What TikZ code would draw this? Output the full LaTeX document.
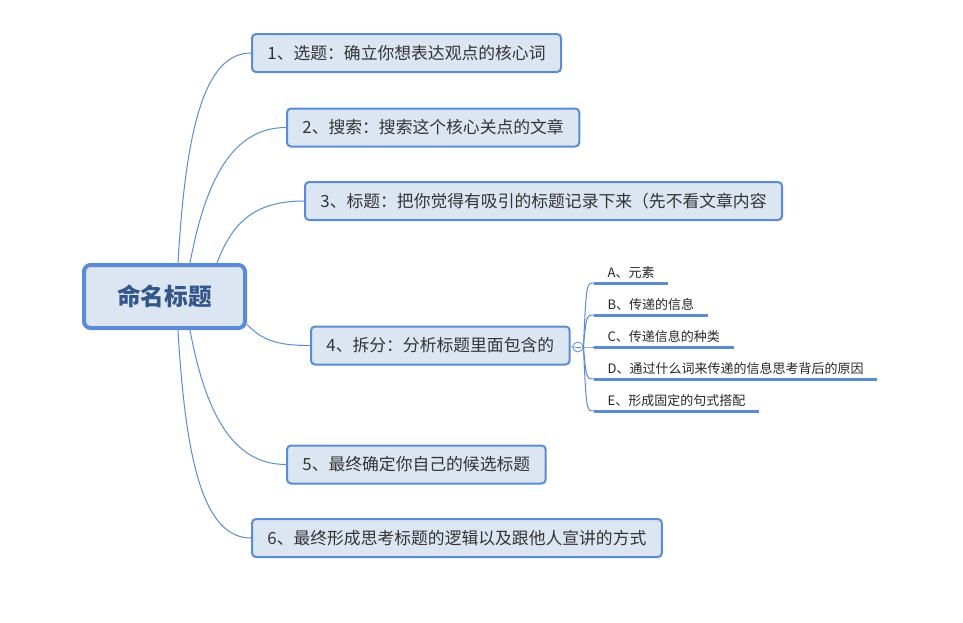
\documentclass[tikz,border=0pt]{standalone}
\usepackage{fontspec}
\setmainfont{Noto Sans CJK SC}
\usepackage{tikz}
\usetikzlibrary{shapes, calc}
\definecolor{mapblue}{HTML}{5A8BD3}
\definecolor{mapfill}{HTML}{DCE6F2}
\definecolor{roottext}{HTML}{33578A}
\definecolor{branchtext}{HTML}{333333}
\tikzstyle{line} = [draw, mapblue, line width = 0.75pt]
\tikzstyle{root} = [rectangle, draw = mapblue, fill = mapfill, line width = 3pt, rounded corners = 5pt, minimum width = 120.75pt, minimum height = 47.25pt, text = roottext, font = \fontsize{17.8}{20}\selectfont\bfseries]
\tikzstyle{branch} = [rectangle, draw = mapblue, fill = mapfill, line width = 1.5pt, rounded corners = 3pt, minimum height = 28.5pt, inner xsep = 11.6pt, text = branchtext, font = \fontsize{12.6}{15}\selectfont, anchor = west]
\tikzstyle{subitem} = [inner xsep = 10pt, inner ysep = 0pt, text = black!85, font = \fontsize{9.75}{12}\selectfont, anchor = base west]
\tikzstyle{subline} = [draw, mapblue, line width = 2.25pt]
\tikzstyle{fold} = [circle, draw = mapblue, fill = white, line width = 0.6pt, minimum size = 7.5pt, inner sep = 0pt]
\begin{document}
\begin{tikzpicture}[x = 0.75pt, y = -0.75pt]
			\useasboundingbox (0, 0) rectangle (963, 622);
			% Place nodes
			\node [root] (root) at (164.5, 296.5) {命名标题};
			\node [branch] (pick) at (251, 53) {1、选题：确立你想表达观点的核心词};
			\node [branch] (search) at (286, 127.5) {2、搜索：搜索这个核心关点的文章};
			\node [branch] (title) at (304, 201) {3、标题：把你觉得有吸引的标题记录下来（先不看文章内容};
			\node [branch] (split) at (310, 345.5) {4、拆分：分析标题里面包含的};
			\node [branch] (choose) at (286, 464.5) {5、最终确定你自己的候选标题};
			\node [branch] (logic) at (251, 538) {6、最终形成思考标题的逻辑以及跟他人宣讲的方式};
			\node [fold] (fold) at (578, 347) {};
			\draw [mapblue!70!gray, line width = 0.6pt] ($(fold.west) + (2, 0)$) -- ($(fold.east) + (-2, 0)$);
			% Draw edges
			\path [line] ($(root.north) + (13.5, 0)$) .. controls +(8, -140) and +(-45, 0) .. (pick.west);
			\path [line] ($(root.north) + (25.5, 0)$) .. controls +(15, -80) and +(-55, 0) .. (search.west);
			\path [line] ($(root.north) + (52.5, 0)$) .. controls +(15, -40) and +(-50, 0) .. (title.west);
			\path [line] ($(root.east) + (0, 28)$) .. controls +(15, 15) and +(-35, 0) .. (split.west);
			\path [line] ($(root.south) + (25.5, 0)$) .. controls +(15, 80) and +(-55, 0) .. (choose.west);
			\path [line] ($(root.south) + (13.5, 0)$) .. controls +(8, 140) and +(-45, 0) .. (logic.west);
			\path [line] (split) -- (fold);
			% Sub items of 4
			\foreach \n/\y/\t in {a/283/A、元素, b/315/B、传递的信息, c/347/C、传递信息的种类, d/379/D、通过什么词来传递的信息思考背后的原因, e/411/E、形成固定的句式搭配} {
				\coordinate (\n0) at (594, \y);
				\node [subitem] (\n) at ($(\n0) + (0, -6)$) {\t};
				\path [subline] (\n0) -- ($(\n.base east) + (0, 6)$);
				\path [line] (fold.east) .. controls ($(fold.east |- \n0) + (3, 0)$) .. (\n0);
			}
\end{tikzpicture}
\end{document}
